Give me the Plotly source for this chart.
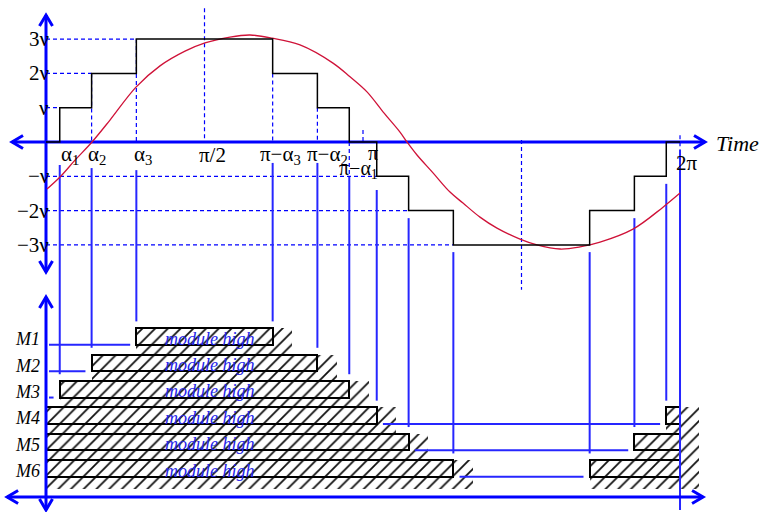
import plotly.graph_objects as go

# Switching angles of the three cascaded cells (degrees)
alpha = [7.8, 25.9, 51.3]
levels = [1, 2, 3]
level_labels = ["ν", "2ν", "3ν"]
neg_level_labels = ["−ν", "−2ν", "−3ν"]
module_names = ["M1", "M2", "M3", "M4", "M5", "M6"]

# Seven-level staircase output (units of v)
stair_angle = [0, alpha[0], alpha[1], alpha[2],
               180 - alpha[2], 180 - alpha[1], 180 - alpha[0],
               180 + alpha[0], 180 + alpha[1], 180 + alpha[2],
               360 - alpha[2], 360 - alpha[1], 360 - alpha[0], 360]
stair_level = [0, 1, 2, 3, 2, 1, 0, -1, -2, -3, -2, -1, 0, 0]

# Reference sinusoid (degrees, units of v)
ref_angle = [0.57, 7.95, 16.47, 26.12, 36.34, 51.10, 64.73, 78.93, 90.28,
             104.48, 115.84, 128.33, 144.23, 162.96, 172.62, 182.27, 191.36,
             201.01, 204.98, 210.66, 219.75, 229.40, 236.78, 246.43, 256.08,
             269.15, 278.80, 291.86, 303.22, 314.58, 333.31, 350.35, 360.00]
ref_volt = [-1.37, -1.02, -0.53, 0.00, 0.64, 1.60, 2.22, 2.65, 2.89,
            3.06, 3.12, 3.03, 2.83, 2.30, 1.90, 1.46, 0.88,
            0.29, 0.00, -0.38, -0.90, -1.46, -1.78, -2.19, -2.51,
            -2.83, -3.00, -3.12, -3.06, -2.92, -2.54, -1.90, -1.49]

# Conduction ("module high") intervals of each module, degrees
module_on = [
    [(alpha[2], 180 - alpha[2])],
    [(alpha[1], 180 - alpha[1])],
    [(alpha[0], 180 - alpha[0])],
    [(0, 180 + alpha[0]), (360 - alpha[0], 360)],
    [(0, 180 + alpha[1]), (360 - alpha[1], 360)],
    [(0, 180 + alpha[2]), (360 - alpha[2], 360)],
]

# ---- layout geometry (data units: degrees horizontally, v vertically) ----
row_top = -5.67
row_pitch = 0.77
row_y = [row_top - i * row_pitch for i in range(len(module_names))]
bar_h = 0.48
shadow_dx = 11.0
shadow_dy = 0.35

BLUE = "#0000ff"
PROJ_BLUE = "#2626ff"
RED = "#cf1238"
SERIF = "Liberation Serif"
DASH = "4px,3px"

fig = go.Figure()


def line(x, y, color=BLUE, width=1.2, dash="solid", shape="linear"):
    fig.add_trace(go.Scatter(x=x, y=y, mode="lines",
                             line=dict(color=color, width=width, dash=dash, shape=shape),
                             hoverinfo="skip", showlegend=False))


# ---- hatched module bars ----
sh_y, sh_base, sh_len = [], [], []
bx_y, bx_base, bx_len = [], [], []
for yc, spans in zip(row_y, module_on):
    for a, b in spans:
        sh_y.append(yc - shadow_dy / 2)
        sh_base.append(a)
        sh_len.append(b - a + shadow_dx)
        bx_y.append(yc)
        bx_base.append(a)
        bx_len.append(b - a)

fig.add_trace(go.Bar(
    orientation="h", y=sh_y, x=sh_len, base=sh_base, width=bar_h + shadow_dy,
    marker=dict(color="white", line=dict(width=0),
                pattern=dict(shape="/", fgcolor="#111111", bgcolor="white",
                             size=9, solidity=0.2, fillmode="replace")),
    hoverinfo="skip", showlegend=False))
fig.add_trace(go.Bar(
    orientation="h", y=bx_y, x=bx_len, base=bx_base, width=bar_h,
    marker=dict(color="rgba(0,0,0,0)", line=dict(color="black", width=2)),
    hoverinfo="skip", showlegend=False))

# ---- dashed guide lines ----
for k, lv in enumerate(levels):
    line([0, alpha[k]], [lv, lv], dash=DASH)
    line([0, 180 + alpha[k]], [-lv, -lv], dash=DASH)

v_guides = [
    (alpha[1], 2, 0), (alpha[2], 3, 0), (90, 3.9, 0),
    (180 - alpha[2], 2, 0), (180 - alpha[1], 1, 0), (180 - alpha[0], 0, -1),
    (180, 0.35, 0), (270, 0.06, -4.31), (360, 0.2, -0.23),
]
for xg, y0, y1 in v_guides:
    line([xg, xg], [y0, y1], dash=DASH)

# ---- projection lines from the switching instants to the module rows ----
proj = [
    (alpha[0], -0.67, 2), (alpha[1], -0.76, 1), (alpha[2], -0.82, 0),
    (180 - alpha[2], -0.61, 0), (180 - alpha[1], -0.61, 1), (180 - alpha[0], -1.02, 2),
    (180 + alpha[0], -1.40, 3), (180 + alpha[1], -2.22, 4), (180 + alpha[2], -3.21, 5),
    (360 - alpha[2], -3.21, 5), (360 - alpha[1], -2.22, 4), (360 - alpha[0], -1.22, 3),
]
for xp, top, row in proj:
    line([xp, xp], [top, row_y[row] + bar_h / 2 + 0.2], color=PROJ_BLUE, width=2)
line([360, 360], [-0.23, -10.73], color=PROJ_BLUE, width=2)

# horizontal connectors along the bottom edge of each row
gap = 3.5
for i, (yc, spans) in enumerate(zip(row_y, module_on)):
    yb = yc - bar_h / 2
    if len(spans) == 1:
        line([1.7, spans[0][0] - gap], [yb, yb], color=PROJ_BLUE, width=2)
    else:
        line([spans[0][1] + gap, spans[1][0] - gap], [yb, yb], color=PROJ_BLUE, width=2)

# ---- axes with open arrow heads ----
AX_W = 3
ah_x, ah_y = 3.69, 0.32      # arrow arms for vertical axes
ahh_x, ahh_y = 6.25, 0.19    # arrow arms for horizontal axes


def v_axis(y_top, y_bot):
    line([0, 0], [y_top, y_bot], width=AX_W)
    line([-ah_x, 0, ah_x], [y_top - ah_y, y_top, y_top - ah_y], width=AX_W)
    line([-ah_x, 0, ah_x], [y_bot + ah_y, y_bot, y_bot + ah_y], width=AX_W)


def h_axis(yv, x_left, x_right):
    line([x_left, x_right], [yv, yv], width=AX_W)
    line([x_left + ahh_x, x_left, x_left + ahh_x], [yv + ahh_y, yv, yv - ahh_y], width=AX_W)
    line([x_right - ahh_x, x_right, x_right - ahh_x], [yv + ahh_y, yv, yv - ahh_y], width=AX_W)


v_axis(3.70, -3.79)
h_axis(0, -19.3, 374.2)
v_axis(-4.52, -10.73)
h_axis(-10.35, -22.1, 373.1)

# ---- reference sinusoid and staircase ----
line(ref_angle, ref_volt, color=RED, width=1.3, shape="spline")
line(stair_angle, stair_level, color="black", width=1.5, shape="hv")

# ---- text ----
ann = []


def text(x, y, s, size=21, color="black", xanchor="center", italic=False):
    ann.append(dict(x=x, y=y, xref="x", yref="y", text=f"<i>{s}</i>" if italic else s,
                    showarrow=False, xanchor=xanchor, yanchor="middle",
                    font=dict(family=SERIF, size=size, color=color)))


for lv, s in zip(levels, level_labels):
    text(2.6, lv, s, xanchor="right")
for lv, s in zip(levels, neg_level_labels):
    text(2.6, -lv, s, xanchor="right")

text(alpha[0] + 5.8, -0.38, "α<sub>1</sub>")
text(alpha[1] + 3.0, -0.38, "α<sub>2</sub>")
text(alpha[2] + 3.8, -0.38, "α<sub>3</sub>")
text(94.3, -0.38, "π/2")
text(180 - alpha[2] + 4.3, -0.38, "π−α<sub>3</sub>")
text(180 - alpha[1] + 5.5, -0.38, "π−α<sub>2</sub>")
text(185.6, -0.33, "π", size=20)
text(177.6, -0.80, "π−α<sub>1</sub>", size=20)
text(364.0, -0.61, "2π")
text(379.5, -0.03, "Time", size=22, xanchor="left", italic=True)

for yc, name in zip(row_y, module_names):
    text(-10.5, yc - 0.08, name, size=18, italic=True)
    text(93.0, yc - 0.06, "module high", size=18, color="#2424e8", italic=True)

fig.update_layout(
    width=761, height=512,
    margin=dict(l=0, r=0, t=0, b=0),
    paper_bgcolor="white", plot_bgcolor="white",
    barmode="overlay", bargap=0,
    showlegend=False, hovermode=False,
    xaxis=dict(range=[-26.12, 405.99], visible=False, fixedrange=True),
    yaxis=dict(range=[-10.787, 4.140], visible=False, fixedrange=True),
    annotations=ann,
)

fig.write_html("out.html")
